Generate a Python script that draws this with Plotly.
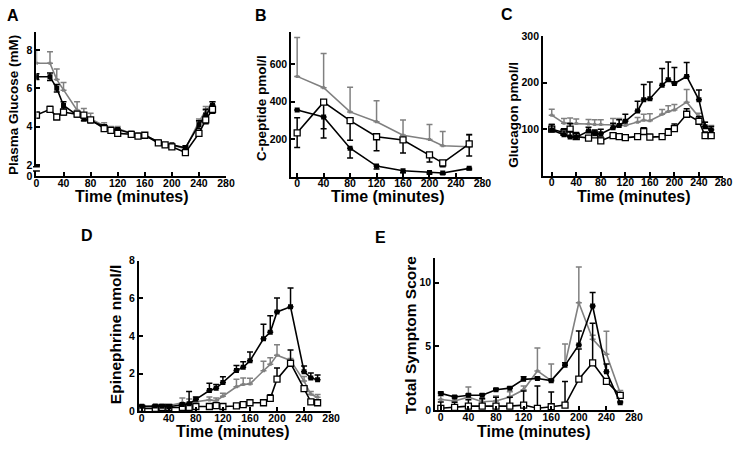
import plotly.graph_objects as go

# ---------------- DATA ----------------
t_a = [0, 20, 30, 40, 60, 70, 80, 100, 110, 120, 140, 150, 160, 180, 190, 200, 220, 240, 250, 260]
gluc_black = [6.6, 6.6, 6.0, 5.1, 4.6, 4.4, 4.3, 4.0, 3.85, 3.85, 3.65, 3.55, 3.55, 3.2, 3.05, 3.05, 2.9, 4.1, 4.6, 5.1]
gluc_black_err = [0.15, 0.2, 0.2, 0.2, 0.1, 0.1, 0.1, 0.1, 0.05, 0.05, 0.05, 0.05, 0.05, 0.05, 0.05, 0.05, 0.1, 0.2, 0.3, 0.2]
gluc_gray = [7.3, 7.3, 6.45, 5.9, 4.85, 4.6, 4.4, 4.05, 3.9, 3.9, 3.65, 3.6, 3.6, 3.15, 3.1, 3.05, 2.85, 4.25, 4.85, 5.15]
gluc_gray_err = [0.7, 0.6, 0.55, 0.4, 0.45, 0.35, 0.3, 0.15, 0.1, 0.1, 0.1, 0.05, 0.05, 0.05, 0.05, 0.05, 0.1, 0.15, 0.2, 0.15]
gluc_open = [4.6, 4.9, 4.5, 4.75, 4.65, 4.6, 4.35, 3.9, 3.8, 3.65, 3.6, 3.5, 3.55, 3.15, 3.05, 2.95, 2.65, 3.65, 4.35, 4.9]
gluc_open_err = [0.15, 0.15, 0.1, 0.15, 0.1, 0.1, 0.1, 0.1, 0.05, 0.05, 0.05, 0.05, 0.05, 0.05, 0.05, 0.05, 0.1, 0.15, 0.2, 0.2]

t_b = [0, 40, 80, 120, 160, 200, 220, 260]
cpep_gray = [534, 474, 345, 293, 221, 198, 165, 160]
cpep_gray_err = [207, 181, 131, 112, 81, 80, 76, 61]
cpep_open = [234, 397, 299, 213, 196, 117, 74, 175]
cpep_open_err_plus = [80, 0, 0, 0, 0, 0, 0, 50]
cpep_open_err_minus = [78, 190, 104, 74, 69, 38, 20, 64]
cpep_black = [355, 318, 152, 57, 32, 23, 20, 45]
cpep_black_err = [0, 62, 52, 15, 10, 8, 6, 8]

t_c = t_a
glucagon_black = [98, 88, 83, 83, 96, 90, 90, 103, 108, 117, 139, 163, 165, 194, 206, 198, 213, 163, 105, 98]
glucagon_black_err = [12, 8, 12, 10, 8, 8, 10, 10, 12, 15, 21, 33, 36, 36, 38, 34, 30, 21, 10, 8]
glucagon_gray = [130, 113, 112, 112, 111, 110, 110, 110, 109, 108, 115, 119, 118, 132, 138, 141, 158, 126, 107, 100]
glucagon_gray_err = [13, 10, 12, 10, 10, 10, 10, 13, 14, 10, 10, 13, 15, 10, 12, 12, 27, 8, 8, 8]
glucagon_open = [100, 93, 100, 84, 81, 88, 75, 86, 84, 82, 84, 95, 83, 84, 93, 101, 132, 117, 86, 86]
glucagon_open_err = [10, 8, 12, 8, 5, 8, 8, 6, 6, 6, 6, 8, 6, 6, 8, 10, 12, 10, 8, 5]

t_d = t_a
epi_black = [0.26, 0.28, 0.26, 0.24, 0.35, 0.4, 0.63, 1.1, 1.22, 1.53, 2.17, 2.33, 2.68, 3.85, 4.2, 5.28, 5.55, 2.1, 1.77, 1.67]
epi_black_err = [0.05, 0.05, 0.05, 0.05, 0.05, 0.65, 0.12, 0.38, 0.2, 0.3, 0.26, 0.3, 0.47, 0.77, 0.87, 0.74, 1.0, 0.3, 0.26, 0.26]
epi_gray = [0.25, 0.28, 0.28, 0.3, 0.45, 0.45, 0.5, 0.6, 0.55, 0.8, 1.3, 1.42, 1.45, 2.15, 2.49, 2.98, 2.7, 1.6, 0.9, 0.74]
epi_gray_err = [0.05, 0.05, 0.05, 0.05, 0.25, 0.2, 0.15, 0.15, 0.15, 0.15, 0.4, 0.35, 0.3, 0.5, 0.35, 0.55, 0.1, 0.25, 0.15, 0.15]
epi_open = [0.15, 0.15, 0.2, 0.2, 0.2, 0.2, 0.25, 0.25, 0.3, 0.25, 0.28, 0.35, 0.45, 0.45, 0.68, 1.7, 2.55, 1.2, 0.5, 0.45]
epi_open_err = [0.05, 0.05, 0.05, 0.05, 0.05, 0.05, 0.05, 0.05, 0.05, 0.05, 0.05, 0.08, 0.1, 0.1, 0.2, 0.6, 0.7, 0.15, 0.1, 0.1]

t_e = [0, 20, 40, 60, 80, 100, 120, 140, 160, 180, 200, 220, 240, 260]
sym_black = [1.3, 1.02, 1.15, 1.15, 1.58, 1.71, 2.4, 2.47, 2.3, 3.5, 5.1, 8.16, 3.0, 0.56]
sym_black_err = [0.1, 0.1, 0.1, 0.1, 0.1, 0.1, 0.2, 0.1, 0.1, 0.2, 1.1, 1.07, 0.6, 0.1]
sym_gray = [0.82, 0.7, 1.0, 0.64, 0.7, 1.02, 1.58, 3.06, 2.3, 3.57, 8.42, 5.56, 4.38, 1.33]
sym_gray_err = [0.3, 0.2, 0.8, 0.2, 0.4, 0.4, 0.3, 1.8, 1.3, 1.6, 2.8, 0.3, 1.8, 0.2]
sym_open = [0.13, 0.2, 0.3, 0.3, 0.3, 0.3, 0.38, 0.13, 0.25, 0.38, 2.42, 3.7, 2.24, 1.15]
sym_open_err = [0.5, 0.4, 0.5, 0.6, 0.7, 0.7, 1.1, 1.75, 1.15, 1.86, 2.37, 3.1, 0.1, 0.1]

panel_letters = ["A", "B", "C", "D", "E"]
y_titles = ["Plasma Glucose (mM)", "C-peptide pmol/l", "Glucagon pmol/l", "Epinephrine nmol/l", "Total Symptom Score"]
x_title = "Time (minutes)"
x_ticks = [0, 40, 80, 120, 160, 200, 240, 280]

# ---------------- LAYOUT HELPERS ----------------
W, H = 743, 450
FONT = "Liberation Sans, Arial, sans-serif"
GRAY = "#808080"


def xd(a, b):
    return [a / W, b / W]


def yd(top, bottom):
    return [1 - bottom / H, 1 - top / H]


fig = go.Figure()


def add_series(xs, ys, err_plus, err_minus, style, axis_idx):
    xa = "x" if axis_idx == 1 else f"x{axis_idx}"
    ya = "y" if axis_idx == 1 else f"y{axis_idx}"
    if style == "gray":
        line = dict(color=GRAY, width=1.6)
        marker = dict(symbol="square", size=3, color=GRAY)
        ecol = GRAY
    elif style == "black":
        line = dict(color="black", width=1.6)
        marker = dict(symbol="square", size=5, color="black")
        ecol = "black"
    else:
        line = dict(color="black", width=1.6)
        marker = dict(symbol="square", size=6, color="white", line=dict(color="black", width=1.3))
        ecol = "black"
    fig.add_trace(go.Scatter(
        x=xs, y=ys, mode="lines+markers", line=line, marker=marker,
        error_y=dict(type="data", symmetric=False, array=err_plus,
                     arrayminus=err_minus if err_minus is not None else [0] * len(ys),
                     color=ecol, thickness=1.5, width=3),
        xaxis=xa, yaxis=ya, showlegend=False, hoverinfo="skip"))


# A
add_series(t_a, gluc_gray, gluc_gray_err, None, "gray", 1)
add_series(t_a, gluc_black, gluc_black_err, gluc_black_err, "black", 1)
add_series(t_a, gluc_open, gluc_open_err, gluc_open_err, "open", 1)
# B
add_series(t_b, cpep_gray, cpep_gray_err, None, "gray", 2)
add_series(t_b, cpep_black, [0] * len(t_b), cpep_black_err, "black", 2)
add_series(t_b, cpep_open, cpep_open_err_plus, cpep_open_err_minus, "open", 2)
# C
add_series(t_c, glucagon_gray, glucagon_gray_err, None, "gray", 3)
add_series(t_c, glucagon_open, glucagon_open_err, None, "open", 3)
add_series(t_c, glucagon_black, glucagon_black_err, None, "black", 3)
# D
add_series(t_d, epi_gray, epi_gray_err, None, "gray", 4)
add_series(t_d, epi_open, epi_open_err, None, "open", 4)
add_series(t_d, epi_black, epi_black_err, None, "black", 4)
# E
add_series(t_e, sym_gray, sym_gray_err, None, "gray", 5)
add_series(t_e, sym_open, sym_open_err, None, "open", 5)
add_series(t_e, sym_black, sym_black_err, None, "black", 5)

tickfont = dict(family=FONT, size=10.5, color="black", weight="bold")
axis_common = dict(showline=True, linecolor="black", linewidth=2, ticks="inside",
                   ticklen=4, tickwidth=1.5, tickcolor="black", showgrid=False,
                   zeroline=False, tickfont=tickfont, fixedrange=True)

a_bottom = 1.41
panels = [
    dict(xpx=(34, 226.7), xr=[0, 280], ypx=(26.7, 175), yr=[a_bottom, 8.93],
         yt=[a_bottom + 0.01, 2, 4, 6, 8], ytt=["0", "2", "4", "6", "8"]),
    dict(xpx=(293, 487.3), xr=[-8.9, 280], ypx=(26.7, 175.5), yr=[0, 770],
         yt=[200, 400, 600], ytt=["200", "400", "600"]),
    dict(xpx=(549, 732.3), xr=[-14, 280], ypx=(30.7, 174.5), yr=[0, 300],
         yt=[100, 200, 300], ytt=["100", "200", "300"]),
    dict(xpx=(138.3, 333.5), xr=[-4, 280], ypx=(261.7, 416.3), yr=[0, 8],
         yt=[0, 2, 4, 6, 8], ytt=["0", "2", "4", "6", "8"]),
    dict(xpx=(439.3, 641.4), xr=[-8.1, 280], ypx=(259.3, 415), yr=[0, 11.9],
         yt=[0, 5, 10], ytt=["0", "5", "10"]),
]

layout = dict(width=W, height=H, margin=dict(l=0, r=0, t=0, b=0, pad=0),
              paper_bgcolor="white", plot_bgcolor="white", showlegend=False)
for i, p in enumerate(panels, start=1):
    xk = "xaxis" if i == 1 else f"xaxis{i}"
    yk = "yaxis" if i == 1 else f"yaxis{i}"
    xa = "x" if i == 1 else f"x{i}"
    ya = "y" if i == 1 else f"y{i}"
    layout[xk] = dict(axis_common, domain=xd(*p["xpx"]), range=p["xr"], anchor=ya,
                      tickvals=x_ticks, ticktext=[str(v) for v in x_ticks],
                      ticklabelstandoff=-4)
    layout[yk] = dict(axis_common, domain=yd(*p["ypx"]), range=p["yr"], anchor=xa,
                      tickvals=p["yt"], ticktext=p["ytt"], ticklabelstandoff=0)
fig.update_layout(**layout)

# annotations: panel letters, axis titles
ann = []
letter_pos = [(10, 10), (262, 10), (512, 9), (85, 236), (384, 238)]
for letter, (px, py) in zip(panel_letters, letter_pos):
    ann.append(dict(text=f"<b>{letter}</b>", x=px / W, y=1 - py / H, xref="paper", yref="paper",
                    showarrow=False, font=dict(family=FONT, size=16, color="black"),
                    xanchor="center", yanchor="middle"))
ytitle_pos = [(10, 102, 13.5), (262, 105, 13.5), (518, 112, 13.5), (114, 337, 15.5), (415, 338, 15.5)]
for txt, (px, py, fs) in zip(y_titles, ytitle_pos):
    ann.append(dict(text=f"<b>{txt}</b>", x=px / W, y=1 - py / H, xref="paper", yref="paper",
                    showarrow=False, textangle=-90, font=dict(family=FONT, size=fs, color="black"),
                    xanchor="center", yanchor="middle"))
xtitle_pos = [(131, 196, 16), (391, 196, 16), (641, 196, 16), (234, 437, 16), (540, 437, 16)]
for (px, py, fs) in xtitle_pos:
    ann.append(dict(text=f"<b>{x_title}</b>", x=px / W, y=1 - py / H, xref="paper", yref="paper",
                    showarrow=False, font=dict(family=FONT, size=fs, color="black"),
                    xanchor="center", yanchor="middle"))
fig.update_layout(annotations=ann)

# axis break on panel A's y-axis
brk_hi = 2 - (165 - 163.3) / 19.72
brk_lo = 2 - (169.5 - 163.3) / 19.72
fig.add_shape(type="rect", xref="paper", yref="y", x0=31 / W, x1=37 / W, y0=brk_lo, y1=brk_hi,
              fillcolor="white", line=dict(width=0), layer="above")
for yv in (brk_hi, brk_lo):
    fig.add_shape(type="line", xref="paper", yref="y", x0=30.5 / W, x1=37.5 / W, y0=yv, y1=yv,
                  line=dict(color="black", width=1.5), layer="above")

fig.write_html("out.html", config={"displayModeBar": False},
               post_script="document.body.style.margin='0';document.body.style.padding='0';")
